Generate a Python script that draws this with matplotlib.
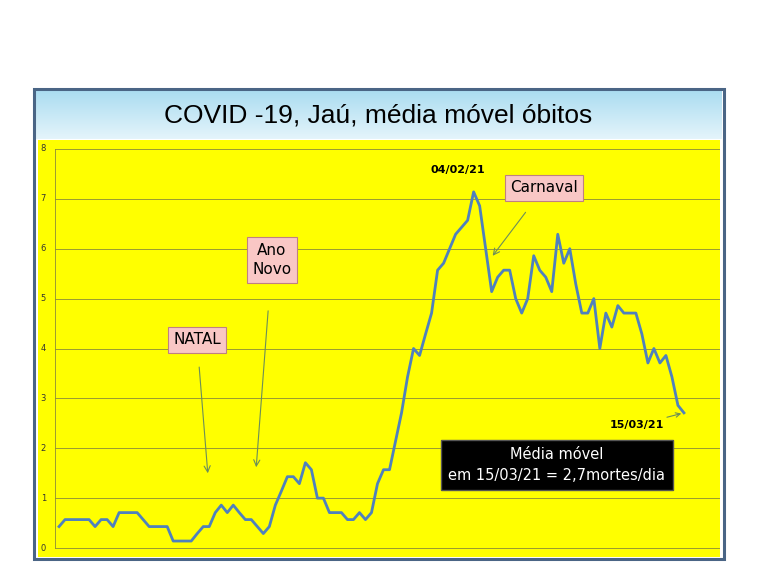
import numpy as np
import matplotlib

matplotlib.use("Agg")
import matplotlib.pyplot as plt
from matplotlib.patches import Rectangle

# média móvel de óbitos (7 dias), Jaú
media_movel = [
    0.43, 0.57, 0.57, 0.57, 0.57, 0.57, 0.43, 0.57, 0.57, 0.43,
    0.71, 0.71, 0.71, 0.71, 0.57, 0.43, 0.43, 0.43, 0.43, 0.14,
    0.14, 0.14, 0.14, 0.29, 0.43, 0.43, 0.71, 0.86, 0.71, 0.86,
    0.71, 0.57, 0.57, 0.43, 0.29, 0.43, 0.86, 1.14, 1.43, 1.43,
    1.29, 1.71, 1.57, 1.00, 1.00, 0.71, 0.71, 0.71, 0.57, 0.57,
    0.71, 0.57, 0.71, 1.29, 1.57, 1.57, 2.14, 2.71, 3.43, 4.00,
    3.86, 4.29, 4.71, 5.57, 5.71, 6.00, 6.29, 6.43, 6.57, 7.14,
    6.86, 6.00, 5.14, 5.43, 5.57, 5.57, 5.00, 4.71, 5.00, 5.86,
    5.57, 5.43, 5.14, 6.29, 5.71, 6.00, 5.29, 4.71, 4.71, 5.00,
    4.00, 4.71, 4.43, 4.86, 4.71, 4.71, 4.71, 4.29, 3.71, 4.00,
    3.71, 3.86, 3.43, 2.86, 2.71,
]
y_ticks = [0, 1, 2, 3, 4, 5, 6, 7, 8]
titulo = "COVID -19, Jaú, média móvel óbitos"

W, H = 768, 576
fig = plt.figure(figsize=(W / 100, H / 100), dpi=100)


def px(x, y):
    return (x / W, 1 - y / H)


# faixa do título (gradiente azul claro)
tax = fig.add_axes([px(35, 0)[0], px(0, 139)[1], (722 - 35) / W, 50 / H])
grad = np.linspace(0, 1, 50).reshape(-1, 1)
tax.imshow(grad, aspect="auto", cmap=matplotlib.colors.LinearSegmentedColormap.from_list(
    "t", ["#a9dcf0", "#e4f4fb"]), extent=[0, 1, 0, 1])
tax.axis("off")
tax.text(0.5, 0.48, titulo, ha="center", va="center", fontsize=19,
         family="Liberation Sans", transform=tax.transAxes)

# área do gráfico
ax = fig.add_axes([px(38, 0)[0], px(0, 557)[1], (720 - 38) / W, (557 - 140) / H])
ax.set_facecolor("#ffff00")
x = np.arange(len(media_movel))
ax.set_xlim(-3.5, 110)
ax.set_ylim(-0.18, 8.18)
for t in y_ticks:
    ax.plot([-0.7, 110], [t, t], color="#8a8a3a", lw=0.6, zorder=1)
    ax.text(-2.6, t, str(t), fontsize=6, ha="center", va="center", color="#333333")
ax.plot([-0.7, -0.7], [0, 8], color="#8a8a3a", lw=0.6, zorder=1)
ax.plot(x, media_movel, color="#4f81bd", lw=2, zorder=3)
ax.set_xticks([])
ax.set_yticks([])
for s in ax.spines.values():
    s.set_visible(False)

# moldura
fig.patches.append(Rectangle(px(34, 559), 690 / W, 470 / H, transform=fig.transFigure,
                             fill=False, edgecolor="#4a6585", lw=2.2))

box_rosa = dict(boxstyle="square,pad=0.35", fc="#f9c7c5", ec="#c08080", lw=0.8)
arrow = dict(arrowstyle="->", color="#6b8e5a", lw=0.8)
fs = 11


def fp(x, y):
    return (x, H - y)


ax.annotate("NATAL", xy=fp(208, 476), xytext=fp(197, 340), xycoords="figure pixels",
            textcoords="figure pixels", ha="center", va="center", fontsize=fs,
            bbox=box_rosa, arrowprops=dict(arrow, shrinkA=10))
ax.annotate("Ano\nNovo", xy=fp(256, 470), xytext=fp(272, 260), xycoords="figure pixels",
            textcoords="figure pixels", ha="center", va="center", fontsize=fs,
            linespacing=1.4, bbox=box_rosa, arrowprops=dict(arrow, shrinkA=20))
ax.annotate("Carnaval", xy=fp(491, 258), xytext=fp(544, 188), xycoords="figure pixels",
            textcoords="figure pixels", ha="center", va="center", fontsize=fs,
            bbox=box_rosa, arrowprops=dict(arrow, shrinkA=10))
fig.text(*px(458, 170), "04/02/21", ha="center", va="center", fontsize=8, weight="bold")
ax.annotate("15/03/21", xy=(len(media_movel) - 1, media_movel[-1]), xytext=fp(637, 425),
            textcoords="figure pixels", ha="center", va="center", fontsize=8,
            weight="bold", arrowprops=dict(arrow, shrinkA=25, shrinkB=2))
fig.text(*px(557, 465), "Média móvel\nem 15/03/21 = 2,7mortes/dia", ha="center",
         va="center", fontsize=10.5, color="white", linespacing=1.5,
         bbox=dict(boxstyle="square,pad=0.5", fc="black", ec="#555555"))

fig.savefig("out.png", dpi=100, facecolor="white")
